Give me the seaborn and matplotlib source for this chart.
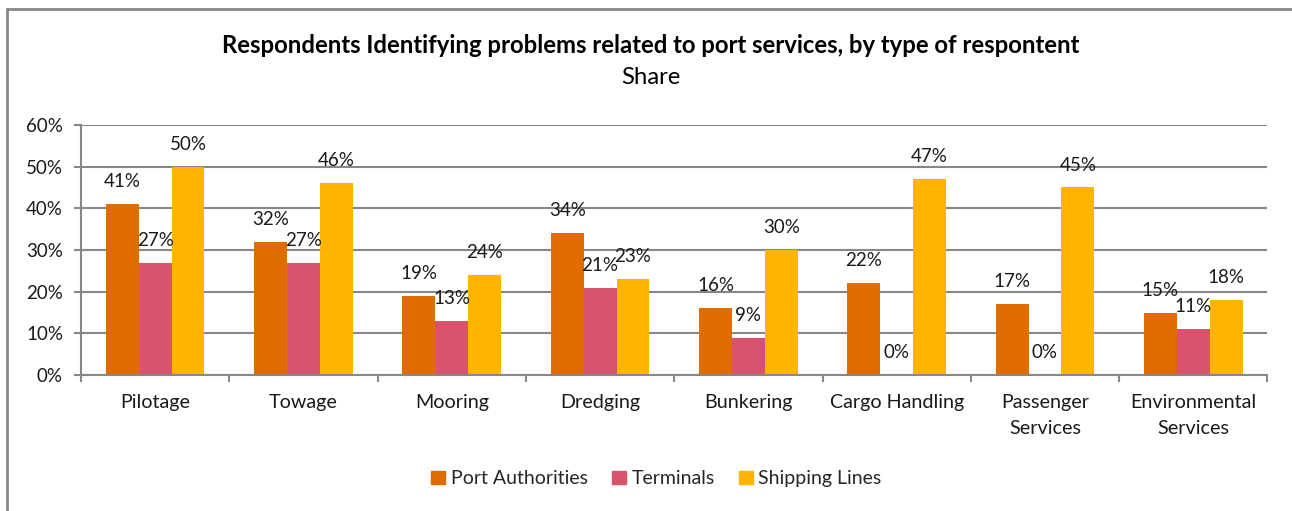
import matplotlib
matplotlib.use("Agg")
import matplotlib.pyplot as plt
from matplotlib.lines import Line2D
from matplotlib.ticker import FixedLocator, PercentFormatter
import numpy as np
import pandas as pd
import seaborn as sns

categories = ["Pilotage", "Towage", "Mooring", "Dredging", "Bunkering",
              "Cargo Handling", "Passenger\nServices", "Environmental\nServices"]
port_authorities = [41, 32, 19, 34, 16, 22, 17, 15]
terminals = [27, 27, 13, 21, 9, 0, 0, 11]
shipping_lines = [50, 46, 24, 23, 30, 47, 45, 18]
series_names = ["Port Authorities", "Terminals", "Shipping Lines"]
colors = ["#E06C00", "#DA536C", "#FFB400"]

df = pd.DataFrame({
    "service": categories * 3,
    "respondent": np.repeat(series_names, len(categories)),
    "share": port_authorities + terminals + shipping_lines,
})

sns.set_theme(style="white")
plt.rcParams["font.family"] = ["Lato", "DejaVu Sans"]
grey = "#878787"

fig = plt.figure(figsize=(12.92, 5.11), dpi=100)
ax = fig.add_axes([0.0627, 0.2661, 0.9183, 0.4893])

sns.barplot(data=df, x="service", y="share", hue="respondent",
            hue_order=series_names, palette=colors, width=0.665,
            saturation=1, ax=ax, legend=True, linewidth=0)

ax.set_ylim(0, 60)
ax.set_xlim(-0.5, len(categories) - 0.5)
ax.yaxis.set_major_locator(FixedLocator(range(0, 61, 10)))
ax.yaxis.set_major_formatter(PercentFormatter(decimals=0))
ax.grid(axis="y", color=grey, linewidth=1.5)
ax.set_axisbelow(True)
for side in ["top", "right"]:
    ax.spines[side].set_visible(False)
for side in ["left", "bottom"]:
    ax.spines[side].set_color(grey)
    ax.spines[side].set_linewidth(1.5)

ax.set_xticks(range(len(categories)), categories, linespacing=1.6)
ax.xaxis.set_minor_locator(FixedLocator(np.arange(-0.5, len(categories), 1.0)))
ax.tick_params(axis="x", which="major", length=0, pad=14, labelsize=14.2, colors="#1a1a1a")
ax.tick_params(axis="x", which="minor", length=5, width=1.5, color=grey, bottom=True)
ax.tick_params(axis="y", length=5, width=1.5, color=grey, left=True, pad=8,
               labelsize=13.5, labelcolor="#1a1a1a")
ax.set_xlabel("")
ax.set_ylabel("")

for container in ax.containers:
    ax.bar_label(container, labels=[f"{v:.0f}%" for v in container.datavalues],
                 padding=10, fontsize=13.5, color="#1a1a1a")

handles = [plt.Rectangle((0, 0), 1, 1, color=c) for c in colors]
ax.legend(handles, series_names, loc="center", bbox_to_anchor=(0.485, -0.415),
          ncol=3, frameon=False, fontsize=14, handlelength=0.7,
          handleheight=0.7, handletextpad=0.3, columnspacing=1.25)

fig.text(0.5035, 0.911, "Respondents Identifying problems related to port services, by type of respontent",
         ha="center", va="center", fontsize=17.2, fontweight="bold", color="#000000")
fig.text(0.5035, 0.848, "Share", ha="center", va="center", fontsize=17.2, color="#000000")

# chart area frame (top and left edges)
fig.add_artist(Line2D([7 / 1292, 1.0], [1 - 9 / 511, 1 - 9 / 511], color=grey, linewidth=2,
                      transform=fig.transFigure))
fig.add_artist(Line2D([7 / 1292, 7 / 1292], [0.0, 1 - 9 / 511], color=grey, linewidth=2,
                      transform=fig.transFigure))

fig.savefig("out.png", dpi=100)
